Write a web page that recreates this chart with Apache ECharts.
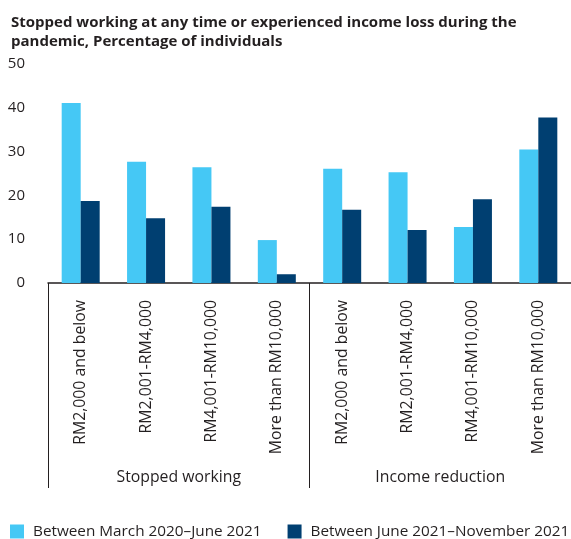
<!DOCTYPE html>
<html><head><meta charset="utf-8">
<script src="https://cdn.jsdelivr.net/npm/echarts@6/dist/echarts.min.js"></script>
<style>html,body{margin:0;padding:0;background:#fff}#c{width:571px;height:539px}</style>
</head><body><div id="c"></div>
<script>
var categories = ['RM2,000 and below','RM2,001-RM4,000','RM4,001-RM10,000','More than RM10,000','RM2,000 and below','RM2,001-RM4,000','RM4,001-RM10,000','More than RM10,000'];
var groups = ['Stopped working','Income reduction'];
var seriesNames = ['Between March 2020\u2013June 2021','Between June 2021\u2013November 2021'];
var period1 = [41.1, 27.7, 26.4, 9.8, 26.1, 25.3, 12.8, 30.5];
var period2 = [18.7, 14.8, 17.4, 2.0, 16.7, 12.1, 19.1, 37.8];
var yTicks = [0, 10, 20, 30, 40, 50];

var FONT = 'Open Sans';
var TXT = '#231f20';
var chart = echarts.init(document.getElementById('c'), null, {renderer:'canvas'});
chart.setOption({
  animation:false,
  textStyle:{fontFamily:FONT},
  title:{
    text:'Stopped working at any time or experienced income loss during the\npandemic, Percentage of individuals',
    left:6, top:8,
    textStyle:{fontFamily:FONT, fontSize:15, fontWeight:'bold', color:TXT, lineHeight:19}
  },
  legend:{
    bottom:0, left:8, width:620, itemWidth:14, itemHeight:14, itemGap:26,
    icon:'rect', padding:[5,0,0,2],
    textStyle:{fontFamily:FONT, fontSize:15.3, color:TXT, padding:[0,0,0,4]},
    data:seriesNames
  },
  grid:{left:48, right:0, top:64, bottom:256, containLabel:false},
  xAxis:[{
    type:'category', data:categories, position:'bottom',
    axisLine:{show:true, lineStyle:{color:'#231f20', width:1.5}},
    axisTick:{show:false},
    axisLabel:{rotate:90, margin:17, fontSize:15.8, color:TXT, fontFamily:FONT, interval:0}
  },{
    type:'category', data:groups, position:'bottom', offset:0,
    axisLine:{show:false},
    axisTick:{show:true, length:205, lineStyle:{color:'#231f20', width:1}},
    axisLabel:{margin:186, fontSize:15.8, color:TXT, fontFamily:FONT, interval:0}
  }],
  yAxis:{
    type:'value', min:yTicks[0], max:yTicks[yTicks.length-1], interval:10,
    splitLine:{show:false}, axisLine:{show:false}, axisTick:{show:false},
    axisLabel:{fontSize:15, color:TXT, fontFamily:FONT, margin:23}
  },
  series:[{
    name:seriesNames[0], type:'bar', data:period1, xAxisIndex:0,
    barWidth:19, barGap:'0%', itemStyle:{color:'#45c8f5'}
  },{
    name:seriesNames[1], type:'bar', data:period2, xAxisIndex:0,
    barWidth:19, barGap:'0%', itemStyle:{color:'#003f71'}
  }]
});
</script></body></html>
